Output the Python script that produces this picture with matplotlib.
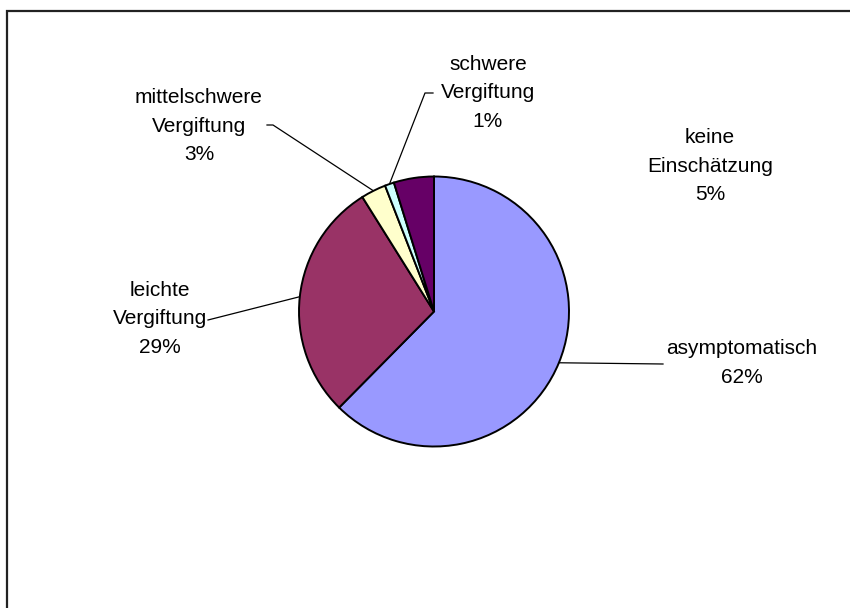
import numpy as np
import matplotlib
matplotlib.use("Agg")
import matplotlib.pyplot as plt

# Schweregrad der Vergiftung (Anteile in %)
categories = ["asymptomatisch", "leichte\nVergiftung", "mittelschwere\nVergiftung",
              "schwere\nVergiftung", "keine\nEinschätzung"]
shares = [62.4, 28.7, 3.0, 1.1, 4.8]
colors = ["#9999FF", "#993366", "#FFFFCC", "#CCFFFF", "#660066"]

W, H = 850, 608
plt.rcParams["font.family"] = ["Liberation Sans", "DejaVu Sans"]

fig = plt.figure(figsize=(W / 100, H / 100), dpi=100)
ax = fig.add_axes([0, 0, 1, 1])

cx, cy, r = 434, H - 311.5, 135
wedges, _ = ax.pie(shares, colors=colors, startangle=90, counterclock=False,
                   center=(cx, cy), radius=r,
                   wedgeprops=dict(edgecolor="black", linewidth=1.4))

ax.set_xlim(0, W)
ax.set_ylim(0, H)
ax.set_aspect("equal")
ax.axis("off")

# chart frame (left + top edge visible)
ax.plot([7.5, 7.5, W + 5], [-5, H - 11, H - 11], color="#222222", lw=1.6,
        solid_joinstyle="miter", clip_on=False)

# label layout: text centre (x, y from top) and leader start points
label_pos = [(742, 363), (160, 319), (199, 126), (488, 93), (710, 166)]
leaders = [
    [(663, 364)],
    [(208, 320)],
    [(267, 125), (273, 125)],
    [(433, 93), (425, 93)],
    None,
]

for w, cat, val, (tx, ty), lead in zip(wedges, categories, shares, label_pos, leaders):
    ax.text(tx, H - ty, f"{cat}\n{val:.0f}%", ha="center", va="center",
            fontsize=15, linespacing=1.65, color="black")
    if lead is None:
        continue
    mid = np.deg2rad((w.theta1 + w.theta2) / 2)
    ax_pt = (cx + r * np.cos(mid), cy + r * np.sin(mid))
    xs = [p[0] for p in lead] + [ax_pt[0]]
    ys = [H - p[1] for p in lead] + [ax_pt[1]]
    ax.plot(xs, ys, color="black", lw=0.9, zorder=0.5)

fig.savefig("out.png", dpi=100, facecolor="white")
